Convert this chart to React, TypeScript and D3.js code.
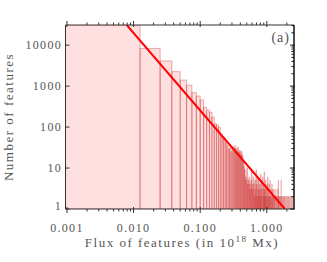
import React from "react";
import * as d3 from "d3";

// histogram of feature fluxes, linear bins of 0.0125 (10^18 Mx)
const binWidth = 0.0125;
const counts = [
  31000, 8300, 4100, 2250, 1400, 1050, 690, 570, 460, 300,
  260, 230, 175, 120, 112, 98, 64, 58, 53, 42,
  36, 29, 31, 25, 33, 28, 35, 30, 26, 32,
  24, 27, 22, 25, 20, 14, 11, 9, 6, 5,
  10, 4, 5, 6, 4, 3, 5, 9, 4, 3,
  6, 4, 2, 5, 3, 9, 4, 2, 6, 3,
  5, 2, 4, 3, 7, 2, 5, 3, 1, 6,
  2, 4, 3, 8, 2, 3, 5, 2, 3, 1,
  4, 2, 6, 1, 3, 2, 4, 1, 2, 5,
  2, 1, 3, 0, 2, 4, 1, 2, 3, 1,
  0, 2, 3, 1, 2, 1, 2, 0, 1, 3,
  1, 0, 2, 1, 2, 0, 1, 3, 1, 5,
  2, 1, 0, 2, 1, 0, 2, 1, 0, 2,
  1, 5, 1, 0, 2, 1, 0, 1, 2, 0,
  1, 0, 2, 1, 0, 1, 2, 0, 1, 0,
  2, 0, 1, 0, 0, 2, 0, 1, 0, 0,
  2, 0, 0, 1, 0, 2, 0, 0, 1, 0,
  2, 0, 0, 0, 1, 0, 2, 0, 0, 0,
  1, 0, 0, 2, 0, 0, 0, 1, 0, 0,
  2, 0, 0, 0, 1, 0, 0, 2,
];

// power law fit drawn in red
const fitFlux = [0.0079, 1.87];
const fitCount = [30900, 1];

const xTickValues = [0.001, 0.01, 0.1, 1];
const xTickLabels = ["0.001", "0.010", "0.100", "1.000"];
const yTickValues = [1, 10, 100, 1000, 10000];
const yTickLabels = ["1", "10", "100", "1000", "10000"];

const W = 327, H = 262;
const left = 65.5, right = 294, top = 25, bottom = 209;
const font = "'Liberation Serif', 'Times New Roman', serif";
const textColor = "#555";

const App: React.FC = () => {
  const x = d3.scaleLog().domain([0.00095, 2.56]).range([left, right]);
  const y = d3.scaleLog().domain([1, 31000]).range([bottom, top]);

  const bars = counts
    .map((c, i) => ({ x0: Math.max(i * binWidth, x.domain()[0]), x1: (i + 1) * binWidth, c }))
    .filter(d => d.c > 0 && d.x0 < x.domain()[1]);

  const xMinor = x.ticks().filter(t => !xTickValues.includes(t));
  const yMinor = y.ticks().filter(t => !yTickValues.includes(t) && t <= y.domain()[1]);

  const fitLine = d3.line<number>()
    .x((_, i) => x(fitFlux[i]))
    .y(d => y(d));

  return (
    <svg width={W} height={H} style={{ position: "absolute", left: 0, top: 0, background: "#fff" }}>
      <defs>
        <clipPath id="plot">
          <rect x={left} y={top} width={right - left} height={bottom - top} />
        </clipPath>
      </defs>
      <g clipPath="url(#plot)">
        {bars.map((d, i) => (
          <rect
            key={i}
            x={x(d.x0)}
            y={y(Math.min(d.c, y.domain()[1]))}
            width={Math.max(x(Math.min(d.x1, x.domain()[1])) - x(d.x0), 0)}
            height={bottom - y(Math.min(d.c, y.domain()[1]))}
            fill="rgba(255,0,0,0.12)"
            stroke="rgba(200,35,35,0.36)"
            strokeWidth={1}
          />
        ))}
        <path d={fitLine(fitCount) || ""} fill="none" stroke="#ff0000" strokeWidth={2} />
      </g>

      {/* frame */}
      <line x1={left} x2={right} y1={top} y2={top} stroke="#333" />
      <line x1={left} x2={right} y1={bottom} y2={bottom} stroke="#333" />
      <line x1={left} x2={left} y1={top} y2={bottom} stroke="#333" />
      <line x1={right} x2={right} y1={top} y2={bottom} stroke="#111" strokeWidth={1.5} />

      {/* x ticks, top and bottom */}
      {xTickValues.map(t => (
        <g key={"xm" + t}>
          <line x1={x(t)} x2={x(t)} y1={top - 4} y2={top + 2} stroke="#333" />
          <line x1={x(t)} x2={x(t)} y1={bottom - 2} y2={bottom + 4} stroke="#333" />
        </g>
      ))}
      {xMinor.map(t => (
        <g key={"xn" + t}>
          <line x1={x(t)} x2={x(t)} y1={top - 2.5} y2={top} stroke="#333" />
          <line x1={x(t)} x2={x(t)} y1={bottom} y2={bottom + 2.5} stroke="#333" />
        </g>
      ))}

      {/* y ticks: left majors, right majors and minors */}
      {yTickValues.map(t => (
        <g key={"ym" + t}>
          <line x1={left} x2={left + 4} y1={y(t)} y2={y(t)} stroke="#333" />
          <line x1={right - 4} x2={right + 1} y1={y(t)} y2={y(t)} stroke="#111" />
        </g>
      ))}
      {yMinor.map(t => (
        <line key={"yn" + t} x1={right - 2.5} x2={right} y1={y(t)} y2={y(t)} stroke="#111" />
      ))}

      {/* tick labels */}
      {xTickValues.map((t, i) => (
        <text key={"xl" + t} x={x(t)} y={232} textAnchor="middle" fontFamily={font} fontSize={12}
          letterSpacing={1.3} fill={textColor}>{xTickLabels[i]}</text>
      ))}
      {yTickValues.map((t, i) => (
        <text key={"yl" + t} x={62} y={Math.min(y(t), 206)} dy="0.35em" textAnchor="end" fontFamily={font} fontSize={12}
          letterSpacing={1.3} fill={textColor}>{yTickLabels[i]}</text>
      ))}

      {/* axis titles */}
      <text x={182} y={247} textAnchor="middle" fontFamily={font} fontSize={13} letterSpacing={1.5} fill={textColor}>
        Flux of features (in 10<tspan dy={-5} fontSize={9}>18</tspan><tspan dy={5}> Mx)</tspan>
      </text>
      <text transform={`translate(13,${117}) rotate(-90)`} textAnchor="middle" fontFamily={font} fontSize={13}
        letterSpacing={1.5} fill={textColor}>Number of features</text>
      <text x={290} y={42} textAnchor="end" fontFamily={font} fontSize={14} letterSpacing={1} fill={textColor}>(a)</text>
    </svg>
  );
};

export default App;
